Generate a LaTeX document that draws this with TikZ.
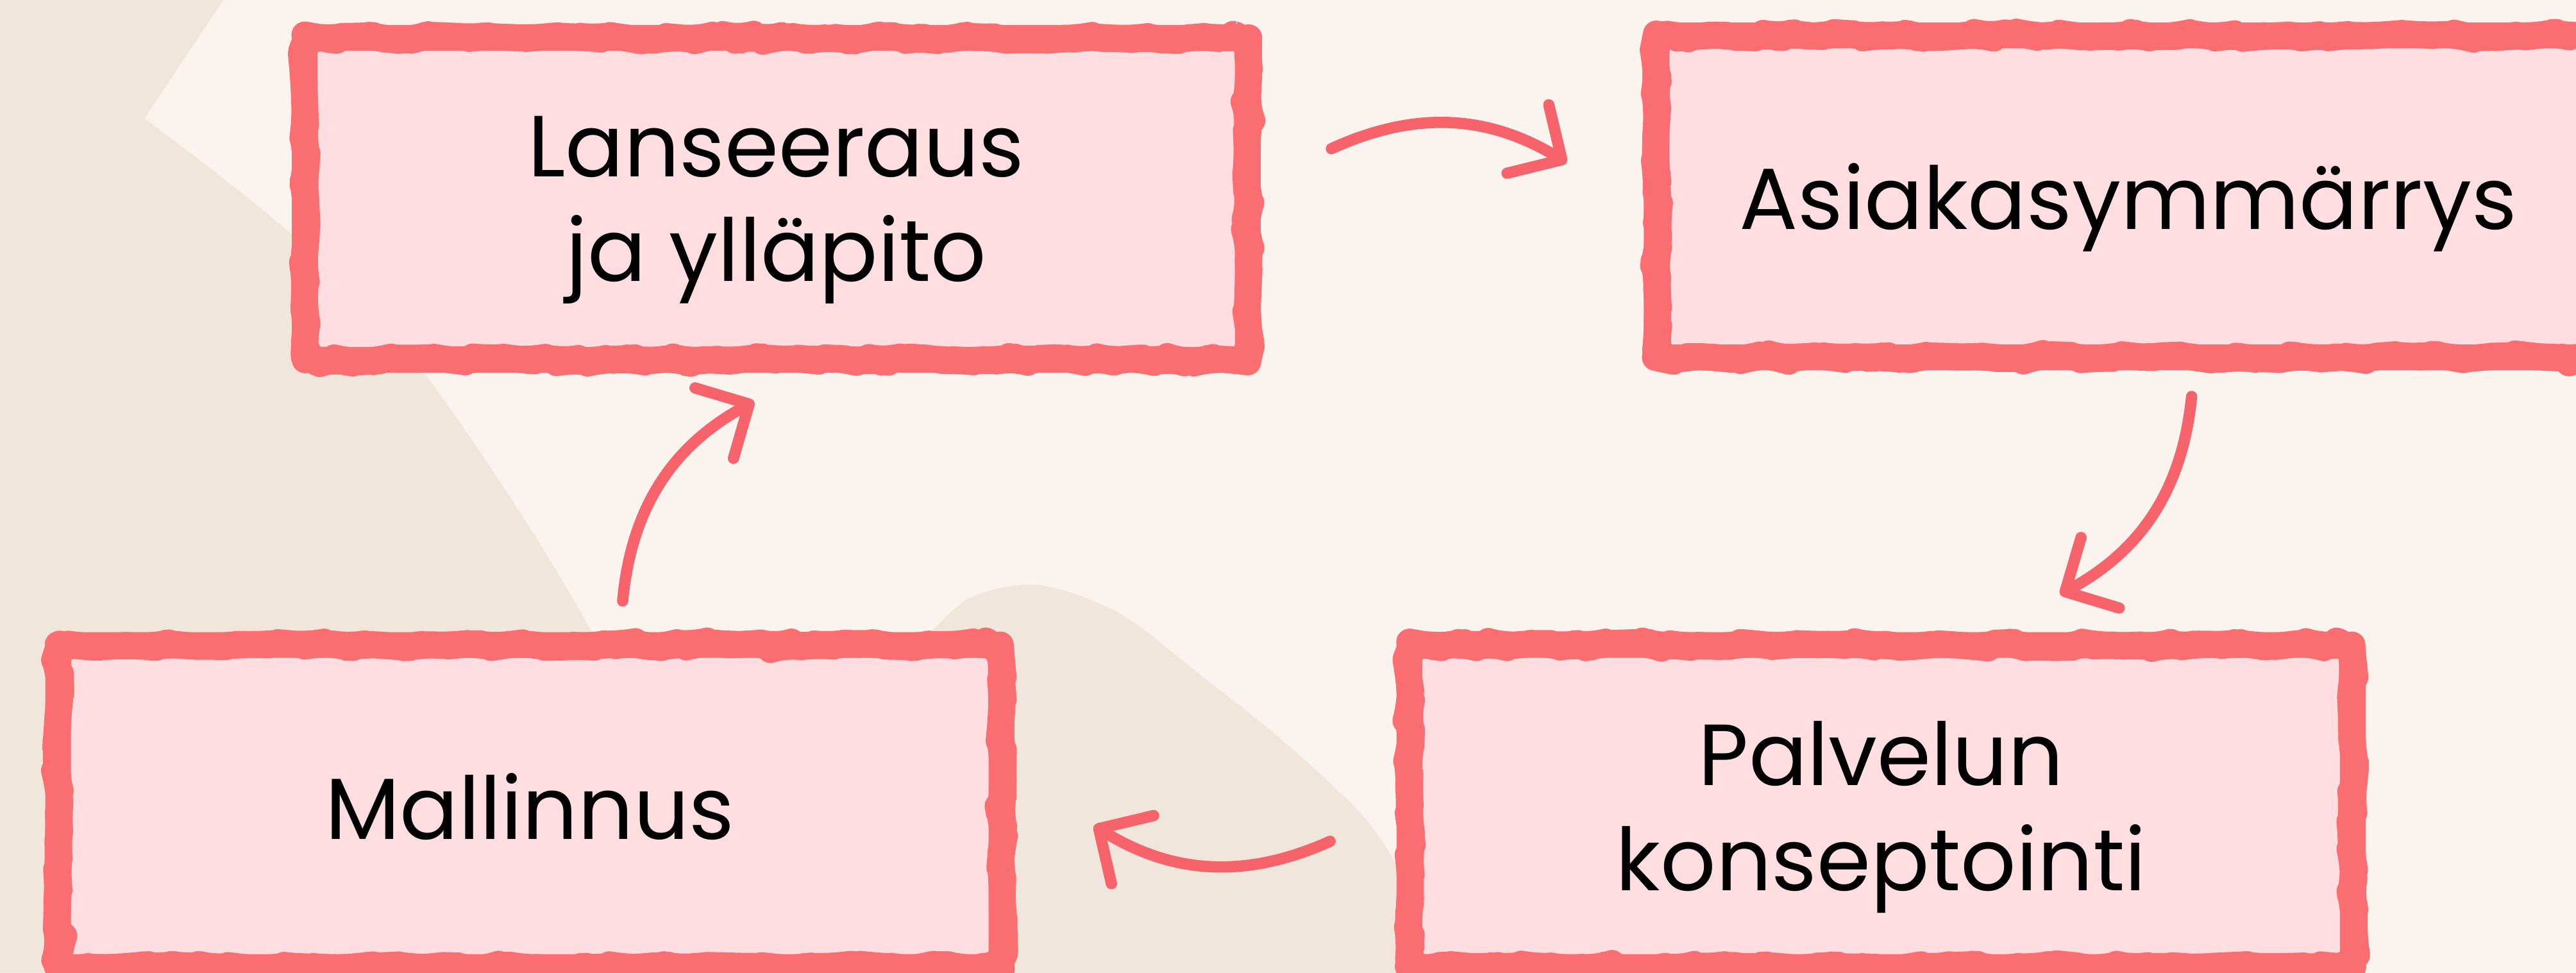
\documentclass[tikz,border=0pt]{standalone}
\usepackage{fontspec}
\setmainfont{Poppins}
\usetikzlibrary{arrows.meta, decorations.pathmorphing}

\definecolor{cream}{HTML}{FBF3ED}
\definecolor{sand}{HTML}{F0E6DC}
\definecolor{rosefill}{HTML}{FFDEE2}
\definecolor{coral}{HTML}{FA6E71}
\definecolor{arrowred}{HTML}{F7636A}

\begin{document}
\begin{tikzpicture}[x=0.02562cm, y=0.02562cm,
  stage/.style={rectangle, rounded corners=0.25cm, minimum width=14.71cm, minimum height=5.02cm,
    inner sep=0pt, fill=rosefill, draw=coral, line width=0.4cm, line join=round, align=center,
    font=\fontsize{38.5}{46.5}\selectfont, text=black, text depth=0pt,
    postaction={draw=coral, line width=0.42cm, decorate,
      decoration={random steps, segment length=0.22cm, amplitude=0.04cm}}},
  flow/.style={arrowred, line width=5pt, line cap=round,
    -{Straight Barb[length=0.62cm, width=1.25cm, round]}, bend left=28}]
  \pgfmathsetseed{7}
  \useasboundingbox (0,0) rectangle (1568,592);
  \clip (0,0) rectangle (1568,592);
  \fill[cream] (0,0) rectangle (1568,592);
  \fill[sand] (0,592) -- (136,592) -- (88,520) -- plot[smooth] coordinates {(88,520) (179,448) (259,364) (363,202) (450,0)} -- (0,0) -- cycle;
  \fill[sand] plot[smooth] coordinates {(560,200) (590,228) (632,236) (681,219) (731,181) (781,141) (831,94) (858,50) (880,-10)} -- (560,-10) -- cycle;

  \node[stage] (lanseeraus) at (472.5,471) {Lanseeraus\\ja ylläpito};
  \node[stage] (asiakas) at (1295.5,472.5) {Asiakasymmärrys};
  \node[stage] (konseptointi) at (1145,101.5) {Palvelun\\konseptointi};
  \node[stage] (mallinnus) at (322.5,101.5) {Mallinnus};

  \draw[flow] ([shift={(43,30.5)}]lanseeraus.east) to ([shift={(-47,20.5)}]asiakas.west);
  \draw[flow] ([shift={(38.5,-16)}]asiakas.south) to ([shift={(109,23)}]konseptointi.north);
  \draw[flow] ([shift={(-40.5,-21.5)}]konseptointi.west) to ([shift={(48.5,-12)}]mallinnus.east);
  \draw[flow] ([shift={(56.5,19)}]mallinnus.north) to ([shift={(-13.5,-17.5)}]lanseeraus.south);
\end{tikzpicture}
\end{document}
